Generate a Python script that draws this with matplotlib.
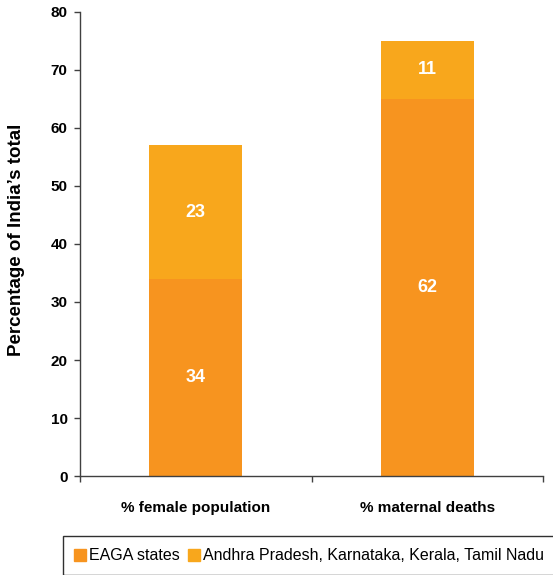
import matplotlib
matplotlib.use("Agg")
import matplotlib.pyplot as plt
from matplotlib.patches import Rectangle
from matplotlib.lines import Line2D

plt.rcParams['font.family'] = ['Liberation Sans', 'DejaVu Sans']

categories = ["% female population", "% maternal deaths"]
eaga = [34, 65]
others = [23, 10]
eaga_labels = ["34", "62"]
others_labels = ["23", "11"]
series_names = ["EAGA states", "Andhra Pradesh, Karnataka, Kerala, Tamil Nadu"]
yticks = [0, 10, 20, 30, 40, 50, 60, 70, 80]

c_eaga = "#F7941F"
c_oth = "#F8A71C"

W, H = 553, 575
fig = plt.figure(figsize=(W / 100, H / 100), dpi=100)
ax = fig.add_axes([80 / W, 1 - 476 / H, (543 - 80) / W, (476 - 12) / H])

x = list(range(len(categories)))
ax.bar(x, eaga, width=0.4, color=c_eaga, label=series_names[0])
ax.bar(x, others, width=0.4, bottom=eaga, color=c_oth, label=series_names[1])

for i in x:
    ax.text(i, eaga[i] / 2, eaga_labels[i], ha='center', va='center',
            color='white', fontsize=13, fontweight='bold')
    ax.text(i, eaga[i] + others[i] / 2, others_labels[i], ha='center', va='center',
            color='white', fontsize=13, fontweight='bold')

ax.set_xlim(-0.5, 1.5)
ax.set_ylim(0, 80)
ax.set_yticks(yticks)
ax.set_yticklabels([str(v) for v in yticks], fontsize=11, fontweight='bold')
ax.set_xticks(x)
ax.set_xticklabels(categories, fontsize=11, fontweight='bold')
ax.set_xticks([-0.5, 0.5, 1.5], minor=True)
ax.tick_params(axis='x', which='major', length=0, pad=18)
ax.tick_params(axis='x', which='minor', length=4, width=1, color='#404040', direction='out')
ax.tick_params(axis='y', length=4, width=1, color='#404040', direction='out', pad=5)
for s in ['top', 'right']:
    ax.spines[s].set_visible(False)
for s in ['left', 'bottom']:
    ax.spines[s].set_color('#404040')
    ax.spines[s].set_linewidth(1)

fig.text(17 / W, 1 - 240 / H, "Percentage of India\u2019s total", rotation=90,
         ha='center', va='center', fontsize=13.5, fontweight='bold')

# legend box (clipped by figure edge as in reference)
fig.patches.append(Rectangle((63 / W, 0), 1.0, 1 - 535.5 / H, transform=fig.transFigure,
                             fill=False, edgecolor='#303030', linewidth=1))
handles = [Line2D([], [], marker='s', linestyle='none', markersize=8.5, color=c_eaga),
           Line2D([], [], marker='s', linestyle='none', markersize=8.5, color=c_oth)]
fig.legend(handles, series_names, loc='center left',
           bbox_to_anchor=(74 / W, 1 - 556 / H), ncol=2, frameon=False,
           fontsize=11.5, handlelength=0.7, handletextpad=0.25, columnspacing=0.5,
           borderpad=0, borderaxespad=0)

fig.savefig("out.png", dpi=100)
